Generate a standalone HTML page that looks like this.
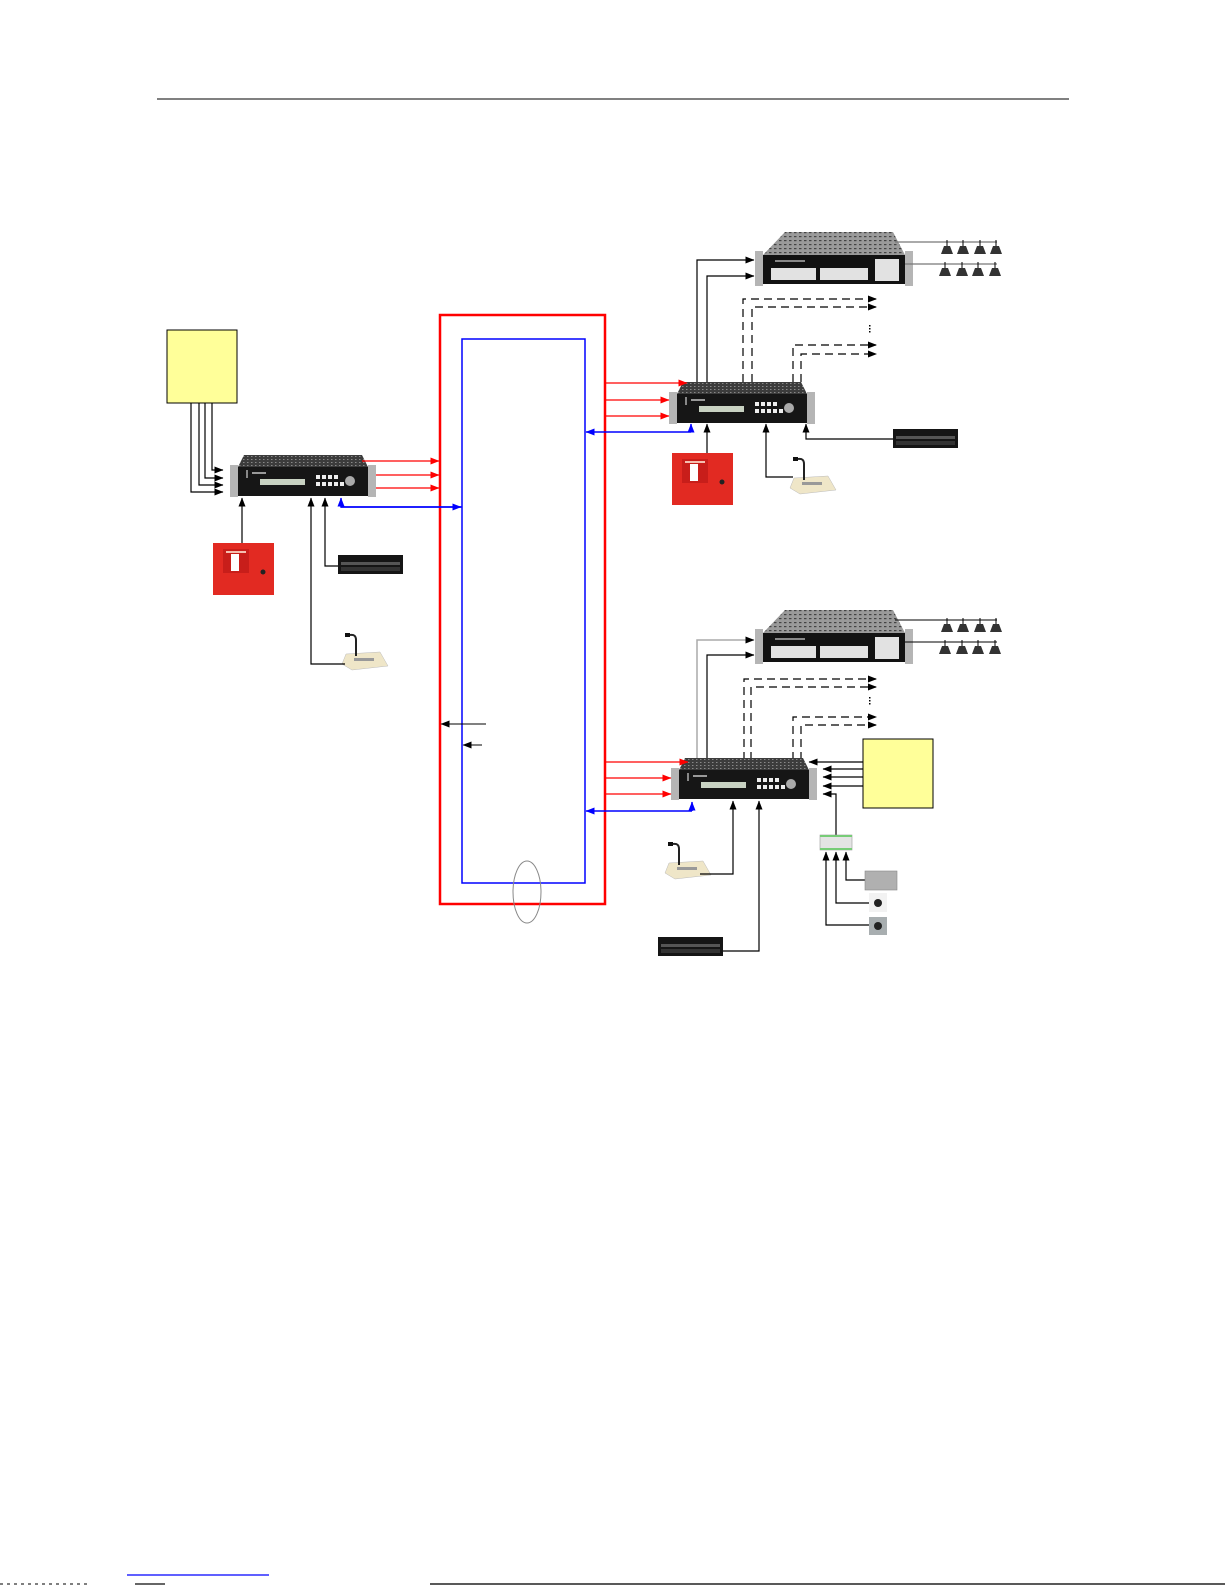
<!DOCTYPE html>
<html><head><meta charset="utf-8"><style>
html,body{margin:0;padding:0;background:#fff;}
svg{display:block;}
</style></head><body>
<svg width="1225" height="1585" viewBox="0 0 1225 1585" xmlns="http://www.w3.org/2000/svg">
<defs>
<marker id="ak" markerWidth="9" markerHeight="7" refX="8.5" refY="3.5" orient="auto" markerUnits="userSpaceOnUse"><path d="M0,0 L9,3.5 L0,7 z" fill="#000"/></marker>
<marker id="ar" markerWidth="9" markerHeight="7" refX="8.5" refY="3.5" orient="auto" markerUnits="userSpaceOnUse"><path d="M0,0 L9,3.5 L0,7 z" fill="#f00"/></marker>
<marker id="ab" markerWidth="9" markerHeight="7" refX="8.5" refY="3.5" orient="auto" markerUnits="userSpaceOnUse"><path d="M0,0 L9,3.5 L0,7 z" fill="#00f"/></marker>
<pattern id="perf" width="4" height="3" patternUnits="userSpaceOnUse"><rect width="4" height="3" fill="#3c3c3c"/><rect x="1" y="1" width="1.5" height="1" fill="#888"/></pattern>
<pattern id="perf2" width="5" height="4" patternUnits="userSpaceOnUse"><rect width="5" height="4" fill="#9a9a9a"/><rect x="1" y="1" width="2.5" height="1.2" fill="#444"/></pattern>
<g id="router">
  <polygon points="6,-12 124,-12 130,0 0,0" fill="url(#perf)"/>
  <rect x="0" y="0" width="130" height="29" fill="#161616"/>
  <rect x="-8" y="-2" width="8" height="32" fill="#b5b5b5"/>
  <rect x="130" y="-2" width="8" height="32" fill="#b5b5b5"/>
  <rect x="22" y="12" width="45" height="6" fill="#c8d2c2"/>
  <rect x="78" y="8" width="4" height="4" fill="#eee"/><rect x="84" y="8" width="4" height="4" fill="#eee"/><rect x="90" y="8" width="4" height="4" fill="#eee"/><rect x="96" y="8" width="4" height="4" fill="#eee"/>
  <rect x="78" y="15" width="4" height="4" fill="#eee"/><rect x="84" y="15" width="4" height="4" fill="#eee"/><rect x="90" y="15" width="4" height="4" fill="#eee"/><rect x="96" y="15" width="4" height="4" fill="#eee"/><rect x="102" y="15" width="4" height="4" fill="#eee"/>
  <circle cx="112" cy="14" r="5" fill="#aaa"/>
  <rect x="8" y="3" width="2" height="8" fill="#888"/>
  <rect x="14" y="5" width="14" height="2" fill="#999"/>
</g>
<g id="amp">
  <polygon points="22,-23 130,-23 142,0 0,0" fill="url(#perf2)"/>
  <rect x="0" y="0" width="142" height="29" fill="#121212"/>
  <rect x="-8" y="-4" width="8" height="35" fill="#b5b5b5"/>
  <rect x="142" y="-4" width="8" height="35" fill="#b5b5b5"/>
  <rect x="8" y="13" width="45" height="12" fill="#e2e2e2"/>
  <rect x="57" y="13" width="48" height="12" fill="#e2e2e2"/>
  <rect x="112" y="4" width="24" height="22" fill="#e2e2e2"/>
  <rect x="12" y="5" width="30" height="2" fill="#888"/>
</g>
<g id="spk"><polygon points="-3,0 3,0 6,8 -6,8" fill="#333"/><line x1="0" y1="0" x2="0" y2="-6" stroke="#000" stroke-width="1"/></g>
<g id="fire">
  <rect x="0" y="0" width="61" height="52" fill="#e22a22"/>
  <rect x="10" y="6" width="26" height="24" fill="#c81e1a"/>
  <rect x="18" y="11" width="8" height="17" fill="#fff"/>
  <rect x="13" y="8" width="20" height="2" fill="#f5c0b0"/>
  <circle cx="50" cy="29" r="2.5" fill="#222"/>
</g>
<g id="cd">
  <rect x="0" y="0" width="65" height="19" fill="#151515"/>
  <rect x="3" y="7" width="59" height="3" fill="#555"/>
  <rect x="3" y="12" width="59" height="4" fill="#333"/>
</g>
<g id="mic">
  <polygon points="4,22 38,20 46,34 10,38 0,32" fill="#efe6c8" stroke="#bbb" stroke-width="0.5"/>
  <path d="M14,24 L14,8 Q14,2 8,3" stroke="#222" stroke-width="2" fill="none"/>
  <rect x="3" y="1" width="5" height="4" fill="#111"/>
  <rect x="12" y="26" width="20" height="3" fill="#999"/>
</g>
</defs>

<!-- header line -->
<line x1="157" y1="99" x2="1069" y2="99" stroke="#000" stroke-width="1"/>

<!-- central ring -->
<rect x="440" y="315" width="165" height="589" fill="none" stroke="#f00" stroke-width="2.5"/>
<rect x="462" y="339" width="123" height="544" fill="none" stroke="#00f" stroke-width="1.5"/>
<ellipse cx="527" cy="892" rx="14" ry="31" fill="none" stroke="#888" stroke-width="1"/>
<line x1="486" y1="724" x2="441" y2="724" stroke="#000" stroke-width="1" marker-end="url(#ak)"/>
<line x1="482" y1="745" x2="463" y2="745" stroke="#000" stroke-width="1" marker-end="url(#ak)"/>

<!-- left yellow box -->
<rect x="167" y="330" width="70" height="73" fill="#ffff99" stroke="#000" stroke-width="1"/>
<g stroke="#000" stroke-width="1.2" fill="none">
<polyline points="212,403 212,470 223,470" marker-end="url(#ak)"/>
<polyline points="205,403 205,478 223,478" marker-end="url(#ak)"/>
<polyline points="199,403 199,485 223,485" marker-end="url(#ak)"/>
<polyline points="191,403 191,492 223,492" marker-end="url(#ak)"/>
</g>
<use href="#router" x="238" y="467"/>
<g stroke="#f00" stroke-width="1.2" fill="none">
<line x1="362" y1="461" x2="439" y2="461" marker-end="url(#ar)"/>
<line x1="376" y1="475" x2="439" y2="475" marker-end="url(#ar)"/>
<line x1="376" y1="488" x2="439" y2="488" marker-end="url(#ar)"/>
</g>
<polyline points="462,507 341,507 341,498" stroke="#00f" stroke-width="1.5" fill="none" marker-end="url(#ab)"/>
<line x1="341" y1="507" x2="461" y2="507" stroke="#00f" stroke-width="1.5" marker-end="url(#ab)"/>
<use href="#fire" x="213" y="543"/>
<line x1="242" y1="543" x2="242" y2="498" stroke="#000" stroke-width="1.2" marker-end="url(#ak)"/>
<use href="#cd" x="338" y="555"/>
<polyline points="338,566 325,566 325,498" stroke="#000" stroke-width="1.2" fill="none" marker-end="url(#ak)"/>
<use href="#mic" x="342" y="632"/>
<polyline points="345,664 311,664 311,498" stroke="#000" stroke-width="1.2" fill="none" marker-end="url(#ak)"/>

<!-- top right -->
<use href="#amp" x="763" y="255"/>
<line x1="895" y1="242" x2="997" y2="242" stroke="#777" stroke-width="1.2"/>
<line x1="905" y1="264" x2="997" y2="264" stroke="#777" stroke-width="1.2"/>
<use href="#spk" x="947" y="246"/><use href="#spk" x="963" y="246"/><use href="#spk" x="980" y="246"/><use href="#spk" x="996" y="246"/>
<use href="#spk" x="945" y="268"/><use href="#spk" x="962" y="268"/><use href="#spk" x="978" y="268"/><use href="#spk" x="995" y="268"/>
<g stroke="#000" stroke-width="1.2" fill="none">
<polyline points="697,382 697,260 754,260" marker-end="url(#ak)"/>
<polyline points="707,382 707,276 754,276" marker-end="url(#ak)"/>
</g>
<g stroke="#000" stroke-width="1.2" fill="none" stroke-dasharray="8,5">
<polyline points="743,382 743,299 876,299"/>
<polyline points="752,382 752,307 876,307"/>
<polyline points="793,382 793,345 876,345"/>
<polyline points="801,382 801,354 876,354"/>
</g>
<g fill="#000"><path d="M868,295.5 L877,299 L868,302.5z"/><path d="M868,303.5 L877,307 L868,310.5z"/><path d="M868,341.5 L877,345 L868,348.5z"/><path d="M868,350.5 L877,354 L868,357.5z"/></g>
<rect x="869" y="325" width="1.5" height="1.5"/><rect x="869" y="328" width="1.5" height="1.5"/><rect x="869" y="331" width="1.5" height="1.5"/>

<use href="#router" x="677" y="394"/>
<g stroke="#f00" stroke-width="1.2" fill="none">
<line x1="606" y1="383" x2="687" y2="383" marker-end="url(#ar)"/>
<line x1="606" y1="400" x2="669" y2="400" marker-end="url(#ar)"/>
<line x1="606" y1="416" x2="669" y2="416" marker-end="url(#ar)"/>
</g>
<polyline points="691,432 691,424" stroke="#00f" stroke-width="1.5" fill="none" marker-end="url(#ab)"/>
<line x1="691" y1="432" x2="586" y2="432" stroke="#00f" stroke-width="1.5" marker-end="url(#ab)"/>
<use href="#fire" x="672" y="453"/>
<line x1="707" y1="453" x2="707" y2="424" stroke="#000" stroke-width="1.2" marker-end="url(#ak)"/>
<use href="#mic" x="790" y="456"/>
<polyline points="793,477 766,477 766,424" stroke="#000" stroke-width="1.2" fill="none" marker-end="url(#ak)"/>
<use href="#cd" x="893" y="429"/>
<polyline points="893,439 806,439 806,424" stroke="#000" stroke-width="1.2" fill="none" marker-end="url(#ak)"/>

<!-- bottom right -->
<use href="#amp" x="763" y="633"/>
<line x1="895" y1="620" x2="997" y2="620" stroke="#000" stroke-width="1"/>
<line x1="905" y1="642" x2="997" y2="642" stroke="#000" stroke-width="1"/>
<use href="#spk" x="947" y="624"/><use href="#spk" x="963" y="624"/><use href="#spk" x="980" y="624"/><use href="#spk" x="996" y="624"/>
<use href="#spk" x="945" y="646"/><use href="#spk" x="962" y="646"/><use href="#spk" x="978" y="646"/><use href="#spk" x="995" y="646"/>
<polyline points="697,760 697,640 754,640" stroke="#aaa" stroke-width="1.5" fill="none" marker-end="url(#ak)"/>
<polyline points="707,760 707,655 754,655" stroke="#000" stroke-width="1.2" fill="none" marker-end="url(#ak)"/>
<g stroke="#000" stroke-width="1.2" fill="none" stroke-dasharray="8,5">
<polyline points="744,760 744,679 876,679"/>
<polyline points="751,760 751,687 876,687"/>
<polyline points="793,760 793,717 876,717"/>
<polyline points="801,760 801,725 876,725"/>
</g>
<g fill="#000"><path d="M868,675.5 L877,679 L868,682.5z"/><path d="M868,683.5 L877,687 L868,690.5z"/><path d="M868,713.5 L877,717 L868,720.5z"/><path d="M868,721.5 L877,725 L868,728.5z"/></g>
<rect x="869" y="697" width="1.5" height="1.5"/><rect x="869" y="700" width="1.5" height="1.5"/><rect x="869" y="703" width="1.5" height="1.5"/>

<use href="#router" x="679" y="770"/>
<g stroke="#f00" stroke-width="1.2" fill="none">
<line x1="606" y1="762" x2="688" y2="762" marker-end="url(#ar)"/>
<line x1="606" y1="778" x2="671" y2="778" marker-end="url(#ar)"/>
<line x1="606" y1="794" x2="671" y2="794" marker-end="url(#ar)"/>
</g>
<polyline points="692,811 692,802" stroke="#00f" stroke-width="1.5" fill="none" marker-end="url(#ab)"/>
<line x1="692" y1="811" x2="586" y2="811" stroke="#00f" stroke-width="1.5" marker-end="url(#ab)"/>
<rect x="863" y="739" width="70" height="69" fill="#ffff99" stroke="#000" stroke-width="1"/>
<g stroke="#000" stroke-width="1.2" fill="none">
<line x1="863" y1="762" x2="809" y2="762" marker-end="url(#ak)"/>
<line x1="863" y1="769" x2="823" y2="769" marker-end="url(#ak)"/>
<line x1="863" y1="777" x2="823" y2="777" marker-end="url(#ak)"/>
<line x1="863" y1="786" x2="823" y2="786" marker-end="url(#ak)"/>
<polyline points="836,835 836,794 823,794" marker-end="url(#ak)"/>
</g>
<rect x="820" y="835" width="32" height="15" fill="#e4e4e4" stroke="#999" stroke-width="0.6"/>
<rect x="820" y="835" width="32" height="2" fill="#7c7"/><rect x="820" y="848" width="32" height="2" fill="#7c7"/>
<g stroke="#000" stroke-width="1.2" fill="none">
<polyline points="866,880 846,880 846,852" marker-end="url(#ak)"/>
<polyline points="870,903 836,903 836,852" marker-end="url(#ak)"/>
<polyline points="870,925 826,925 826,852" marker-end="url(#ak)"/>
</g>
<rect x="865" y="871" width="32" height="19" fill="#b0b0b0" stroke="#888" stroke-width="0.6"/>
<rect x="869" y="893" width="18" height="19" fill="#f2f2f2"/><circle cx="878" cy="903" r="4" fill="#222"/>
<rect x="869" y="917" width="18" height="18" fill="#a8aeb0"/><circle cx="878" cy="926" r="4" fill="#222"/>
<use href="#mic" x="665" y="841"/>
<polyline points="700,874 733,874 733,801" stroke="#000" stroke-width="1.2" fill="none" marker-end="url(#ak)"/>
<use href="#cd" x="658" y="937"/>
<polyline points="723,951 759,951 759,801" stroke="#000" stroke-width="1.2" fill="none" marker-end="url(#ak)"/>

<!-- footer -->
<line x1="127" y1="1575" x2="269" y2="1575" stroke="#00f" stroke-width="1.2"/>
<line x1="430" y1="1584" x2="1225" y2="1584" stroke="#222" stroke-width="1.5"/>
<line x1="0" y1="1584" x2="90" y2="1584" stroke="#555" stroke-width="1.5" stroke-dasharray="3,4"/>
<line x1="135" y1="1584" x2="165" y2="1584" stroke="#333" stroke-width="1.5"/>
</svg>
</body></html>
